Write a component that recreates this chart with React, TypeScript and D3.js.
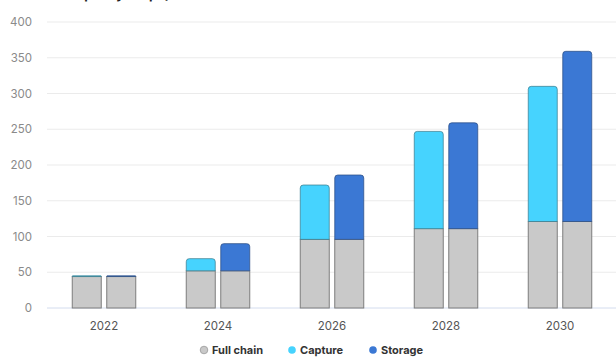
import React from "react";
import * as d3 from "d3";

const years = ["2022", "2024", "2026", "2028", "2030"];
const fullChain = [44, 52, 96, 111, 121];
const capture = [1, 17, 76, 136, 189];
const storage = [1, 38, 90, 148, 238];
const yTicks = [0, 50, 100, 150, 200, 250, 300, 350, 400];
const legendItems = ["Full chain", "Capture", "Storage"];

const W = 616;
const H = 360;
const colors: Record<string, string> = {
  "Full chain": "#c9c9c9",
  Capture: "#46d3fe",
  Storage: "#3b78d4",
};

function topRounded(x: number, y0: number, y1: number, w: number, r: number) {
  const rr = Math.min(r, (y0 - y1) / 2, w / 2);
  return `M${x},${y0}V${y1 + rr}Q${x},${y1} ${x + rr},${y1}H${x + w - rr}Q${x + w},${y1} ${x + w},${y1 + rr}V${y0}Z`;
}

export default function App() {
  const x = d3.scaleBand<string>().domain(years).range([47, 617]).padding(0);
  const y = d3.scaleLinear().domain([0, 400]).range([308, 22]);
  const barW = 29;
  const gap = 5.5;

  return (
    <svg
      width={W}
      height={H}
      style={{ position: "absolute", left: 0, top: 0, background: "#fff" }}
      fontFamily="Inter, 'Noto Sans', sans-serif"
    >
      <text x={67} y={-1} fontSize={13} fontWeight={700} fill="#222">
        Capacity (Mtpa)
      </text>
      {yTicks.map((t) => (
        <g key={t}>
          {t > 0 && (
            <line x1={47} x2={616} y1={y(t)} y2={y(t)} stroke="#ebebeb" strokeWidth={1} />
          )}
          <text
            x={32}
            y={y(t)}
            dy="0.35em"
            textAnchor="end"
            fontSize={11.5}
            fill="#8a8a8a"
          >
            {t}
          </text>
        </g>
      ))}
      <line x1={47} x2={616} y1={y(0)} y2={y(0)} stroke="#d3dcee" strokeWidth={1} />
      {years.map((yr, i) => {
        const cx = (x(yr) ?? 0) + x.bandwidth() / 2;
        const bars = [
          { x0: cx - gap / 2 - barW, top: capture[i], key: "Capture" },
          { x0: cx + gap / 2, top: storage[i], key: "Storage" },
        ];
        return (
          <g key={yr}>
            {bars.map((b) => (
              <g key={b.key}>
                <rect
                  x={b.x0}
                  y={y(fullChain[i])}
                  width={barW}
                  height={y(0) - y(fullChain[i])}
                  fill={colors["Full chain"]}
                  stroke="#7d7d7d"
                  strokeWidth={1}
                />
                <path
                  d={topRounded(b.x0, y(fullChain[i]), y(fullChain[i] + b.top), barW, 3)}
                  fill={colors[b.key]}
                  stroke={b.key === "Capture" ? "#3c7f90" : "#2c4f86"}
                  strokeOpacity={0.75}
                  strokeWidth={1}
                />
              </g>
            ))}
            <text x={cx} y={326} dy="0.35em" textAnchor="middle" fontSize={11.5} fill="#555">
              {yr}
            </text>
          </g>
        );
      })}
      {legendItems.map((name, i) => {
        const lx = [204, 292, 373][i];
        return (
          <g key={name}>
            <circle
              cx={lx}
              cy={350}
              r={3.8}
              fill={colors[name]}
              stroke={name === "Full chain" ? "#999" : "none"}
              strokeWidth={0.8}
            />
            <text x={lx + 8} y={350} dy="0.35em" fontSize={11} fontWeight={700} fill="#333">
              {name}
            </text>
          </g>
        );
      })}
    </svg>
  );
}
